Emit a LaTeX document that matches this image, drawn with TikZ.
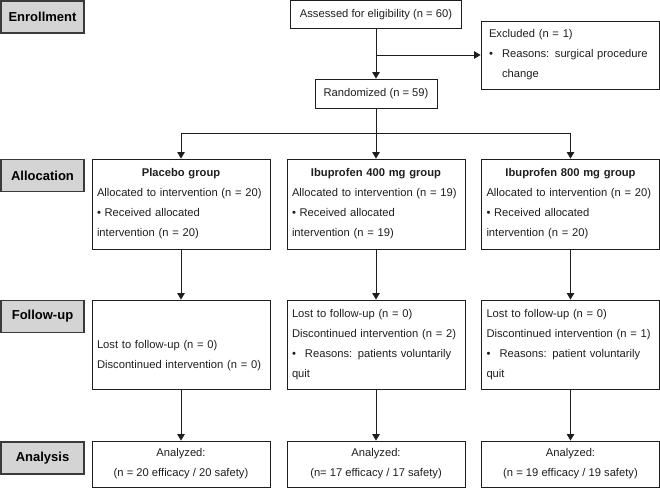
\documentclass[tikz,border=0pt]{standalone}
\usepackage{fontspec}
\setmainfont{Liberation Sans}
\usetikzlibrary{positioning, arrows.meta, calc}
\definecolor{stagefill}{HTML}{D4D4D4}
\definecolor{stageline}{HTML}{3A3A3A}
\definecolor{flowline}{HTML}{1E1E1E}
\newcommand{\gapbullet}{\makebox[13pt][l]{\textbullet}}

\begin{document}
\begin{tikzpicture}[%
		x=1pt, y=-1pt,
		stage/.style={
			rectangle,
			minimum width=83,
			minimum height=32,
			line width=1.3pt,
			draw=stageline,
			fill=stagefill,
			font=\fontsize{13}{15}\selectfont\bfseries
		},
		flowbox/.style={
			rectangle,
			line width=0.9pt,
			draw=flowline,
			inner sep=0pt,
			text=flowline,
			font=\fontsize{11.2}{20}\selectfont
		},
		groupbox/.style={
			flowbox,
			minimum width=178,
			text width=168,
			align=left
		},
		exclbox/.style={
			flowbox,
			minimum width=178,
			minimum height=68,
			text width=162,
			align=left
		},
		analysisbox/.style={
			flowbox,
			minimum width=178,
			minimum height=46,
			align=center
		},
		flowline/.style={
			line width=0.9pt,
			draw=flowline
		},
		flowarrow/.style={
			flowline,
			-{Triangle[width=7.5pt,length=6.5pt]}
		}]

		\useasboundingbox (0,0) rectangle (660,488);

		% STAGE LABELS

		\node (enroll) [stage] at (42.5,17) {Enrollment};
		\node (allocation) [stage] at (42.5,175.5) {Allocation};
		\node (followup) [stage] at (42.5,316.5) {Follow-up};
		\node (analysis) [stage] at (42.5,458) {Analysis};

		% ENROLLMENT

		\node (assess) [flowbox, minimum width=171, minimum height=28] at (376,14.5) {Assessed for eligibility (n = 60)};
		\node (excl) [exclbox] at (570,55) {Excluded (n = 1)\\ \gapbullet Reasons: surgical procedure\\ \hspace*{13pt}change};
		\node (rand) [flowbox, minimum width=122, minimum height=29] at (376,93.5) {Randomized (n = 59)};
		\coordinate (split) at ($(rand.south)+(0,25)$);

		% ALLOCATION

		\node (alloc-P) [groupbox, minimum height=90] at (181,204) {\makebox[\hsize]{\bfseries Placebo group}\\ Allocated to intervention (n = 20)\\ \textbullet{} Received allocated\\ intervention (n = 20)};
		\node (alloc-L) [groupbox, minimum height=90] at (376,204) {\makebox[\hsize]{\bfseries Ibuprofen 400 mg group}\\ Allocated to intervention (n = 19)\\ \textbullet{} Received allocated\\ intervention (n = 19)};
		\node (alloc-H) [groupbox, minimum height=90] at (570.5,204) {\makebox[\hsize]{\bfseries Ibuprofen 800 mg group}\\ Allocated to intervention (n = 20)\\ \textbullet{} Received allocated\\ intervention (n = 20)};

		% FOLLOW-UP

		\node (fu-P) [groupbox, minimum height=89] at (181,344.5) {\rule{0pt}{30pt}Lost to follow-up (n = 0)\\ Discontinued intervention (n = 0)};
		\node (fu-L) [groupbox, minimum height=89] at (376,344.5) {Lost to follow-up (n = 0)\\ Discontinued intervention (n = 2)\\ \gapbullet Reasons: patients voluntarily\\ quit};
		\node (fu-H) [groupbox, minimum height=89] at (570.5,344.5) {Lost to follow-up (n = 0)\\ Discontinued intervention (n = 1)\\ \gapbullet Reasons: patient voluntarily\\ quit};

		% ANALYSIS

		\node (an-P) [analysisbox] at (181,464) {Analyzed:\\ (n = 20 efficacy / 20 safety)};
		\node (an-L) [analysisbox] at (376,464) {Analyzed:\\ (n= 17 efficacy / 17 safety)};
		\node (an-H) [analysisbox] at (570.5,464) {Analyzed:\\ (n = 19 efficacy / 19 safety)};

		% ENROLLMENT LINES

		\draw[flowarrow] (assess.south) -- (rand.north);
		\draw[flowarrow] (assess.south |- excl.west) -- (excl.west);
		\draw[flowline] (rand.south) -- (split);

		% ALLOCATION LINES

		\draw[flowarrow] (split) -| (alloc-P.north);
		\draw[flowarrow] (split) -- (alloc-L.north);
		\draw[flowarrow] (split) -| (alloc-H.north);

		% FOLLOW-UP AND ANALYSIS LINES

		\draw[flowarrow] (alloc-P.south) -- (fu-P.north);
		\draw[flowarrow] (alloc-L.south) -- (fu-L.north);
		\draw[flowarrow] (alloc-H.south) -- (fu-H.north);
		\draw[flowarrow] (fu-P.south) -- (an-P.north);
		\draw[flowarrow] (fu-L.south) -- (an-L.north);
		\draw[flowarrow] (fu-H.south) -- (an-H.north);
\end{tikzpicture}
\end{document}
